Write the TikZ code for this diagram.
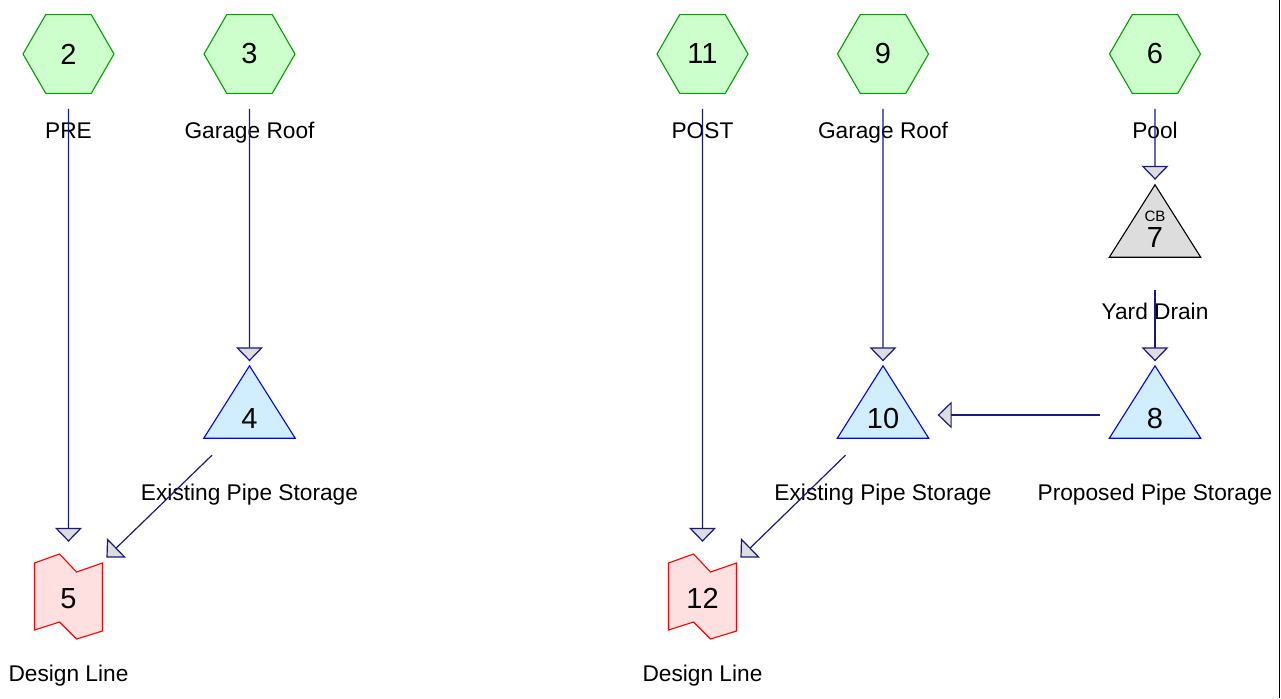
\documentclass[tikz,border=0pt]{standalone}
\usepackage{fontspec}
\setmainfont{Liberation Sans}
\usetikzlibrary{arrows.meta,shapes.geometric,positioning,calc}
\definecolor{hexfill}{RGB}{204,255,204}
\definecolor{hexline}{RGB}{0,160,0}
\definecolor{trifill}{RGB}{208,238,255}
\definecolor{triline}{RGB}{0,0,255}
\definecolor{cbfill}{RGB}{221,221,221}
\definecolor{dlfill}{RGB}{255,224,224}
\definecolor{flowline}{RGB}{25,25,130}
\definecolor{tipfill}{RGB}{221,221,221}
\tikzset{
  hexnode/.style={regular polygon, regular polygon sides=6, minimum size=91pt, inner sep=0pt,
    draw=hexline, fill=hexfill, line width=1.1pt, font=\fontsize{29}{34}\selectfont},
  trinode/.style={minimum width=91pt, minimum height=72pt, inner sep=0pt},
  dlnode/.style={minimum width=68pt, minimum height=85pt, inner sep=0pt},
  numtext/.style={font=\fontsize{29}{34}\selectfont, anchor=base, inner sep=0pt},
  labtext/.style={font=\fontsize{22.7}{27}\selectfont, anchor=base, inner sep=0pt},
  flow/.style={draw=flowline, line width=1.2pt,
    -{Triangle[length=14pt,width=27pt,fill=tipfill]}}
}
\begin{document}
\begin{tikzpicture}[x=1pt,y=-1pt]
\useasboundingbox (0,0) rectangle (1281,698);
% inflow hexagons
\foreach \n/\x/\t in {2/68.5/PRE,3/249.5/Garage Roof,11/702.5/POST,9/883/Garage Roof,6/1155/Pool} {
  \node[hexnode] (h\n) at (\x,54) {\n};
  \node[labtext] (l\n) at ([yshift=-84pt]h\n.center) {\t};
}
% storage and catch basin triangles
\foreach \n/\x/\y/\f/\d/\t in {4/249.5/402/trifill/triline/Existing Pipe Storage,
    10/883/402/trifill/triline/Existing Pipe Storage,
    8/1155/402/trifill/triline/Proposed Pipe Storage,
    7/1155/221/cbfill/black/Yard Drain} {
  \node[trinode] (t\n) at (\x,\y) {};
  \draw[fill=\f, draw=\d, line width=1.1pt] (t\n.south west) -- (t\n.north) -- (t\n.south east) -- cycle;
  \node[numtext] (n\n) at ([yshift=-26pt]t\n.center) {\n};
  \node[labtext] (l\n) at ([yshift=-98pt]t\n.center) {\t};
}
\node[font=\fontsize{15}{18}\selectfont, anchor=base, inner sep=0pt] (cb7) at (t7.center) {CB};
% design lines
\foreach \n/\x in {5/68.5,12/702.5} {
  \node[dlnode] (d\n) at (\x,596.5) {};
  \draw[fill=dlfill, draw=red, line width=1.1pt, shift={(d\n.center)}]
    (-34,-33.5) -- (-9,-42.5) -- (8,-24.5) -- (34,-33.5) -- (34,34.5) -- (8,42.5) -- (-9,25.5) -- (-34,33.5) -- cycle;
  \node[numtext] (n\n) at ([yshift=-11.5pt]d\n.center) {\n};
  \node[labtext] (l\n) at ([yshift=-84.5pt]d\n.center) {Design Line};
}
% connectors
\draw[flow] ([yshift=-15pt]h2.south) -- ([yshift=12pt]d5.north);
\draw[flow] ([yshift=-15pt]h3.south) -- ([yshift=4.5pt]t4.north);
\draw[flow] ([xshift=-37.5pt,yshift=-17pt]t4.south) -- ([xshift=3.7pt,yshift=-3.7pt]d5.north east);
\draw[flow] ([yshift=-15pt]h11.south) -- ([yshift=12pt]d12.north);
\draw[flow] ([yshift=-15pt]h9.south) -- ([yshift=4.5pt]t10.north);
\draw[flow] ([xshift=-37.5pt,yshift=-17pt]t10.south) -- ([xshift=3.7pt,yshift=-3.7pt]d12.north east);
\draw[flow] ([yshift=-15pt]h6.south) -- ([yshift=5pt]t7.north);
\draw[flow] ([yshift=-33pt]t7.south) -- ([yshift=4.5pt]t8.north);
\draw[flow] ([xshift=-9.5pt,yshift=-13pt]t8.west) -- ([xshift=9pt,yshift=-13pt]t10.east);
% right frame edge
\draw[line width=1.5pt] (1279.5,0) -- (1279.5,698);
\end{tikzpicture}
\end{document}
